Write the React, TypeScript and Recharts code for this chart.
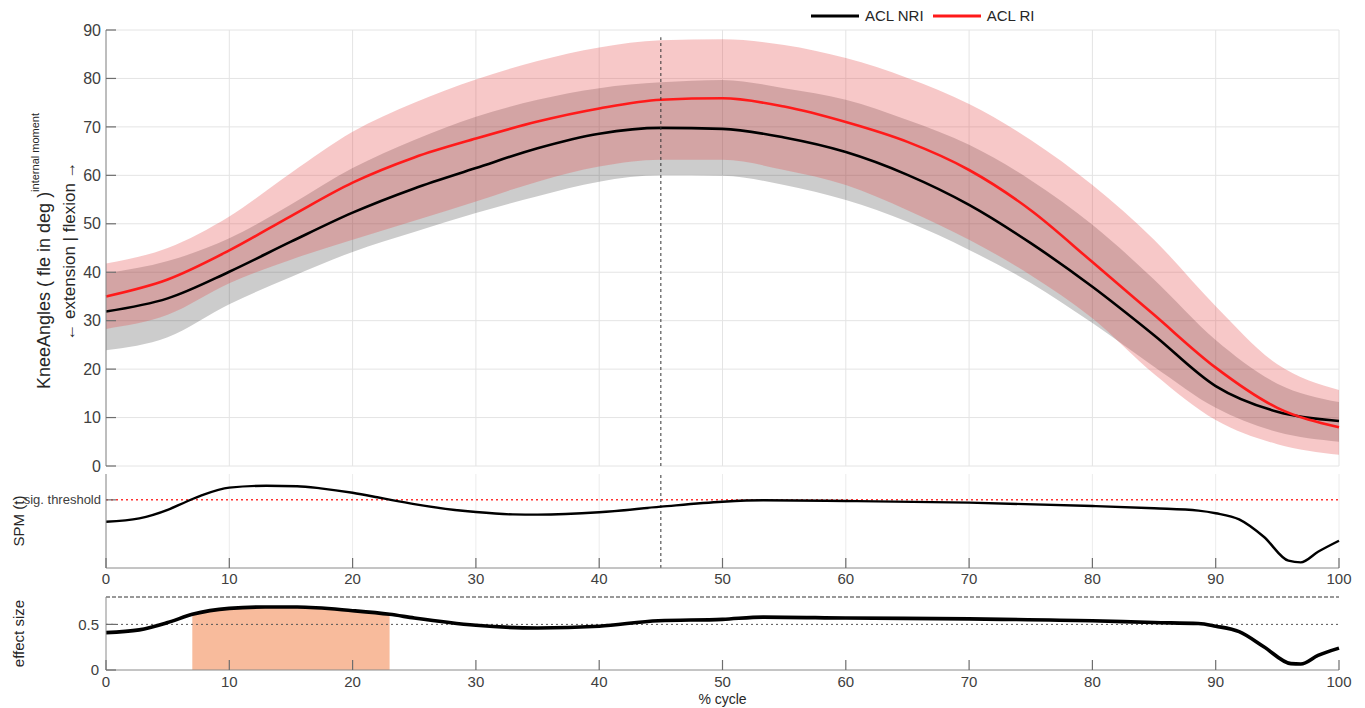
import React from "react";
import {
  Area,
  CartesianGrid,
  ComposedChart,
  Line,
  ReferenceLine,
  XAxis,
  YAxis
} from "recharts";

const FONT = '"Liberation Sans", Arial, Helvetica, sans-serif';
const AXIS = "#8a8a8a";
const TICK_COLOR = "#6e6e6e";
const TICK_TEXT = "#404040";
const TICK_LEN = 10;

// knee angle curves, every 5 % of the cycle
const cycle = [0, 5, 10, 15, 20, 25, 30, 35, 40, 45, 50, 55, 60, 65, 70, 75, 80, 85, 90, 95, 100];
const nriMean = [31.9, 34.6, 40.1, 46.3, 52.3, 57.3, 61.5, 65.6, 68.6, 69.8, 69.6, 67.8, 64.8, 60.1, 53.9, 46.0, 37.0, 27.0, 16.5, 11.2, 9.3];
const nriLow = [23.9, 26.6, 33.4, 39.0, 44.2, 48.3, 52.2, 55.7, 58.7, 60.0, 59.9, 58.0, 54.9, 50.4, 44.6, 37.8, 29.5, 20.5, 12.0, 7.0, 5.0];
const nriHigh = [39.8, 42.3, 47.0, 54.0, 61.5, 67.3, 72.1, 75.6, 78.0, 79.2, 79.7, 78.0, 75.6, 71.4, 66.3, 59.0, 49.8, 38.5, 26.0, 17.0, 13.2];
const riMean = [35.0, 38.5, 44.5, 51.6, 58.5, 63.7, 67.6, 71.1, 73.8, 75.6, 75.9, 74.2, 71.0, 66.9, 61.1, 52.8, 42.1, 31.2, 20.3, 12.0, 8.0];
const riLow = [28.3, 31.2, 37.7, 42.6, 46.7, 50.6, 54.6, 58.7, 61.8, 63.2, 63.2, 61.1, 58.0, 52.8, 46.7, 39.4, 30.5, 19.0, 9.5, 4.5, 2.3];
const riHigh = [41.8, 45.0, 51.5, 60.5, 69.0, 75.0, 79.8, 83.6, 86.4, 87.9, 88.1, 86.9, 84.2, 80.1, 74.7, 67.3, 58.0, 46.7, 33.0, 21.0, 15.7];

// SPM{t} trajectory
const spmX = [0, 2.7, 5, 6.5, 7.8, 10, 13, 15.5, 17.4, 20, 22, 23.2, 25, 28.3, 30, 33, 35, 40, 45, 50, 53.3, 60, 70, 80, 85, 88.6, 90, 91.9, 93.9, 95.9, 96.9, 98.3, 100];
const spmT = [1.97, 2.11, 2.47, 2.82, 3.1, 3.42, 3.5, 3.48, 3.39, 3.2, 3.01, 2.89, 2.72, 2.47, 2.38, 2.28, 2.27, 2.37, 2.61, 2.82, 2.88, 2.85, 2.78, 2.64, 2.54, 2.44, 2.33, 2.07, 1.33, 0.31, 0.24, 0.69, 1.16];
const sigThreshold = 2.9;

// effect size trajectory
const esX = [0, 2.7, 5, 7, 10, 12.9, 15.5, 20, 23, 25, 30, 35, 40, 44.8, 50, 53.3, 60, 70, 80, 85, 88.6, 90, 91.9, 93.9, 96.1, 96.9, 98.3, 100];
const esD = [0.41, 0.44, 0.52, 0.61, 0.675, 0.69, 0.69, 0.65, 0.61, 0.57, 0.49, 0.46, 0.48, 0.54, 0.555, 0.58, 0.57, 0.56, 0.54, 0.52, 0.51, 0.48, 0.42, 0.255, 0.07, 0.065, 0.16, 0.24];
const sigStart = 7;
const sigEnd = 23;

const xTicks = [0, 10, 20, 30, 40, 50, 60, 70, 80, 90, 100];
const angleTicks = [0, 10, 20, 30, 40, 50, 60, 70, 80, 90];
const esTicks = [0, 0.5];
const markerX = 45;

const kneeData = cycle.map((x, i) => ({
  x,
  nriBand: [nriLow[i], nriHigh[i]],
  riBand: [riLow[i], riHigh[i]],
  nri: nriMean[i],
  ri: riMean[i]
}));
const spmData = spmX.map((x, i) => ({ x, t: spmT[i] }));
const esData = esX.map((x, i) => ({
  x,
  d: esD[i],
  sig: x >= sigStart && x <= sigEnd ? esD[i] : null
}));

const W = 1365;
const MARGIN_RIGHT = 26;
const LEFT_W = 106;

// matlab-style ticks pointing into the plot box
function bottomTick(margin: number, fontSize: number, showText: boolean) {
  return (p: any) => {
    const axisY = p.y - margin;
    return (
      <g>
        <line x1={p.x} x2={p.x} y1={axisY} y2={axisY - TICK_LEN} stroke={TICK_COLOR} strokeWidth={1.2} />
        {showText && (
          <text x={p.x} y={p.y} dy="0.71em" textAnchor="middle" fontSize={fontSize} fontFamily={FONT} fill={TICK_TEXT}>
            {p.payload.value}
          </text>
        )}
      </g>
    );
  };
}

function topTick(p: any) {
  return <line x1={p.x} x2={p.x} y1={p.y} y2={p.y + TICK_LEN} stroke={TICK_COLOR} strokeWidth={1.2} />;
}

function leftTick(margin: number, fontSize: number, fmt: (v: number) => string) {
  return (p: any) => {
    const axisX = p.x + margin;
    return (
      <g>
        <line x1={axisX} x2={axisX + TICK_LEN} y1={p.y} y2={p.y} stroke={TICK_COLOR} strokeWidth={1.2} />
        <text x={p.x} y={p.y} dy="0.355em" textAnchor="end" fontSize={fontSize} fontFamily={FONT} fill={TICK_TEXT}>
          {fmt(p.payload.value)}
        </text>
      </g>
    );
  };
}

function rightTick(p: any) {
  return <line x1={p.x} x2={p.x - TICK_LEN} y1={p.y} y2={p.y} stroke={TICK_COLOR} strokeWidth={1.2} />;
}

function kneeLabel(props: any) {
  const vb = props?.viewBox ?? { x: 0, y: 30, width: LEFT_W, height: 436 };
  const cy = vb.y + vb.height / 2 + 3;
  return (
    <g fontFamily={FONT} fill="#262626">
      <text x={44} y={cy} transform={`rotate(-90 44 ${cy})`} textAnchor="middle" dominantBaseline="central" fontSize={18}>
        KneeAngles ( fle in deg )
        <tspan fontSize={11} dy={-9}>internal moment</tspan>
      </text>
      <text x={69} y={cy} transform={`rotate(-90 69 ${cy})`} textAnchor="middle" dominantBaseline="central" fontSize={17}>
        ← extension | flexion →
      </text>
    </g>
  );
}

function sideLabel(text: string) {
  return (props: any) => {
    const vb = props?.viewBox ?? { x: 0, y: 0, width: LEFT_W, height: 90 };
    const cy = vb.y + vb.height / 2;
    return (
      <text x={18} y={cy} transform={`rotate(-90 18 ${cy})`} textAnchor="middle" dominantBaseline="central"
        fontSize={15} fontFamily={FONT} fill="#262626">
        {text}
      </text>
    );
  };
}

function Legend() {
  const item = (color: string, text: string) => (
    <div style={{ display: "flex", alignItems: "center", marginRight: 9 }}>
      <svg width={48} height={6} style={{ marginRight: 6 }}>
        <line x1={0} y1={3} x2={48} y2={3} stroke={color} strokeWidth={3} />
      </svg>
      <span>{text}</span>
    </div>
  );
  return (
    <div style={{ position: "absolute", left: 811, top: 7, display: "flex", fontFamily: FONT, fontSize: 15, color: "#262626", lineHeight: "18px" }}>
      {item("#000000", "ACL NRI")}
      {item("#ff1a1a", "ACL RI")}
    </div>
  );
}

export default function App() {
  return (
    <div style={{ position: "absolute", left: 0, top: 0, width: W, height: 708, background: "#fff", fontFamily: FONT }}>
      <Legend />

      <div style={{ position: "absolute", left: 0, top: 0 }}>
        <ComposedChart width={W} height={480} data={kneeData} margin={{ top: 30, right: MARGIN_RIGHT, bottom: 14, left: 0 }}>
          <CartesianGrid stroke="#e4e4e4" />
          <XAxis dataKey="x" type="number" domain={[0, 100]} ticks={xTicks} interval={0} tickLine={false} tickSize={0} tickMargin={0}
            tick={bottomTick(0, 15, false)} height={0} stroke={AXIS} />
          <XAxis xAxisId="top" orientation="top" dataKey="x" type="number" domain={[0, 100]} ticks={xTicks} interval={0} tickLine={false}
            tickSize={0} tickMargin={0} tick={topTick} height={0} stroke={AXIS} />
          <YAxis type="number" domain={[0, 90]} ticks={angleTicks} interval={0} tickLine={false} tickSize={0} tickMargin={5} width={LEFT_W}
            stroke={AXIS} tick={leftTick(5, 16, (v) => String(v))} label={kneeLabel} />
          <YAxis yAxisId="right" orientation="right" type="number" domain={[0, 90]} ticks={angleTicks} interval={0} tickLine={false}
            tickSize={0} tickMargin={0} tick={rightTick} width={0} stroke={AXIS} />
          <Area type="monotone" dataKey="nriBand" stroke="none" fill="#000000" fillOpacity={0.2} isAnimationActive={false} />
          <Area type="monotone" dataKey="riBand" stroke="none" fill="rgb(228,72,72)" fillOpacity={0.3} isAnimationActive={false} />
          <Line type="monotone" dataKey="nri" stroke="#000000" strokeWidth={2.6} dot={false} isAnimationActive={false} />
          <Line type="monotone" dataKey="ri" stroke="#ff1a1a" strokeWidth={2.6} dot={false} isAnimationActive={false} />
          <ReferenceLine segment={[{ x: markerX, y: 0 }, { x: markerX, y: 88.5 }]} stroke="#333" strokeDasharray="3 3" />
        </ComposedChart>
      </div>

      <div style={{ position: "absolute", left: 0, top: 470 }}>
        <ComposedChart width={W} height={120} data={spmData} margin={{ top: 4, right: MARGIN_RIGHT, bottom: 0, left: 0 }}>
          <CartesianGrid stroke="#ececec" horizontal={false} />
          <XAxis dataKey="x" type="number" domain={[0, 100]} ticks={xTicks} interval={0} tickLine={false} tickSize={0} tickMargin={5}
            tick={bottomTick(5, 15, true)} height={22} stroke={AXIS} />
          <XAxis xAxisId="top" orientation="top" dataKey="x" type="number" domain={[0, 100]} ticks={xTicks} interval={0} tickLine={false}
            tickSize={0} tickMargin={0} tick={topTick} height={0} stroke={AXIS} />
          <YAxis type="number" domain={[0, 4]} ticks={[sigThreshold]} interval={0} tickLine={false} tickSize={0} tickMargin={5}
            width={LEFT_W} stroke={AXIS} tick={leftTick(5, 13, () => "sig. threshold")} label={sideLabel("SPM (t)")} />
          <YAxis yAxisId="right" orientation="right" type="number" domain={[0, 4]} ticks={[sigThreshold]} interval={0} tickLine={false}
            tickSize={0} tickMargin={0} tick={rightTick} width={0} stroke={AXIS} />
          <ReferenceLine y={sigThreshold} stroke="#ff3030" strokeWidth={1.5} strokeDasharray="2 3" />
          <ReferenceLine x={markerX} stroke="#333" strokeDasharray="3 3" />
          <Line type="monotone" dataKey="t" stroke="#000000" strokeWidth={2.4} dot={false} isAnimationActive={false} />
        </ComposedChart>
      </div>

      <div style={{ position: "absolute", left: 0, top: 590 }}>
        <ComposedChart width={W} height={118} data={esData} margin={{ top: 7, right: MARGIN_RIGHT, bottom: 0, left: 0 }}>
          <XAxis dataKey="x" type="number" domain={[0, 100]} ticks={xTicks} interval={0} tickLine={false} tickSize={0} tickMargin={6}
            tick={bottomTick(6, 15, true)} height={38} stroke={AXIS}
            label={{ value: "% cycle", position: "insideBottom", offset: 4, fill: "#262626", fontSize: 14, fontFamily: FONT }} />
          <XAxis xAxisId="top" orientation="top" dataKey="x" type="number" domain={[0, 100]} ticks={xTicks} interval={0} tickLine={false}
            tickSize={0} tickMargin={0} tick={topTick} height={0} stroke={AXIS} />
          <YAxis type="number" domain={[0, 0.8]} ticks={esTicks} interval={0} tickLine={false} tickSize={0} tickMargin={7}
            width={LEFT_W} stroke={AXIS} tick={leftTick(7, 15, (v) => String(v))} label={sideLabel("effect size")} />
          <YAxis yAxisId="right" orientation="right" type="number" domain={[0, 0.8]} ticks={esTicks} interval={0} tickLine={false}
            tickSize={0} tickMargin={0} tick={rightTick} width={0} stroke={AXIS} />
          <Area type="monotone" dataKey="sig" stroke="none" fill="#f8bb9c" fillOpacity={1} baseValue={0} connectNulls={false} isAnimationActive={false} />
          <ReferenceLine y={0.5} stroke="#555" strokeDasharray="2 3" />
          <ReferenceLine y={0.8} stroke="#333" strokeDasharray="4 2" />
          <Line type="monotone" dataKey="d" stroke="#000000" strokeWidth={3.6} dot={false} isAnimationActive={false} />
        </ComposedChart>
      </div>
    </div>
  );
}
